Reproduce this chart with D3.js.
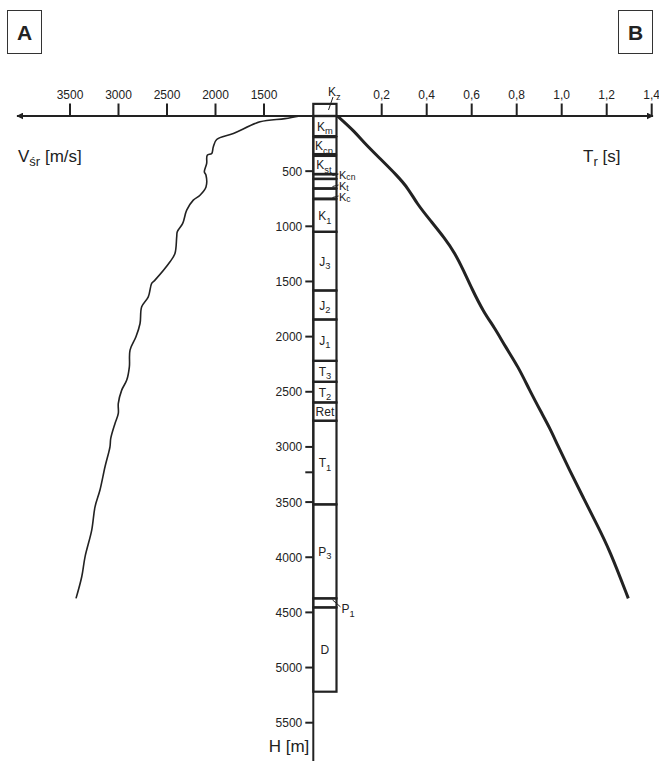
<!DOCTYPE html>
<html>
<head>
<meta charset="utf-8">
<script src="https://cdn.jsdelivr.net/npm/d3@7"></script>
<style>
  body { margin: 0; background: #fff; }
  text { font-family: Arial, "Liberation Sans", sans-serif; fill: #222; }
</style>
</head>
<body>
<div id="chart"></div>
<script>
// tick values on the three axes
const velTicks = [3500, 3000, 2500, 2000, 1500];
const timeTicks = [0.2, 0.4, 0.6, 0.8, 1.0, 1.2, 1.4];
const depthTicks = [500, 1000, 1500, 2000, 2500, 3000, 3500, 4000, 4500, 5000, 5500];
const depthExtraTicks = [3230]; // unlabelled tick on the original

// average velocity curve (A)
const velDepth = [0, 24, 53, 159, 213, 280, 340, 355, 430, 507, 537, 643, 718, 763, 854, 974, 1050, 1096, 1246, 1322, 1488, 1518, 1640, 1730, 1881, 2002, 2122, 2274, 2394, 2485, 2606, 2696, 2787, 2923, 2999, 3180, 3391, 3543, 3754, 3996, 4177, 4373];
const velValues = [1130, 1284, 1541, 1816, 1988, 2023, 2039, 2085, 2091, 2115, 2098, 2098, 2160, 2229, 2297, 2338, 2394, 2400, 2418, 2469, 2624, 2658, 2693, 2761, 2778, 2820, 2881, 2888, 2915, 2967, 3002, 3002, 3036, 3080, 3088, 3139, 3191, 3242, 3276, 3345, 3379, 3438];

// reflection time curve (B)
const timeDepth = [0, 144, 235, 385, 537, 657, 793, 944, 1110, 1246, 1397, 1563, 1775, 1926, 2093, 2274, 2485, 2682, 2848, 2968, 3210, 3452, 3693, 3934, 4373];
const timeValues = [0.003, 0.081, 0.118, 0.192, 0.267, 0.318, 0.356, 0.415, 0.481, 0.526, 0.563, 0.6, 0.652, 0.704, 0.75, 0.807, 0.857, 0.908, 0.952, 0.978, 1.035, 1.094, 1.154, 1.213, 1.296];

// stratigraphic column
const layerMain = ["K", "K", "K", "K", "K", "K", "K", "K", "J", "J", "J", "T", "T", "Ret", "T", "P", "P", "D"];
const layerSub = ["z", "m", "cp", "st", "cn", "t", "c", "1", "3", "2", "1", "3", "2", "", "1", "3", "1", ""];
const layerTop = [-110, 0, 192, 362, 530, 572, 660, 755, 1050, 1582, 1845, 2220, 2410, 2597, 2763, 3521, 4373, 4455];
const layerBottom = [0, 182, 345, 525, 568, 655, 748, 1050, 1582, 1845, 2220, 2410, 2597, 2763, 3521, 4373, 4455, 5219];
const layerOutside = ["top", "", "", "", "right", "right", "right", "", "", "", "", "", "", "", "", "", "right", ""];

const width = 659, height = 763;
const ink = "#222";

const svg = d3.select("#chart")
    .append("svg")
    .attr("width", width)
    .attr("height", height);

const x = d3.scaleLinear().domain([1500, 3500]).range([264, 70]);   // velocity, to the left
const t = d3.scaleLinear().domain([0, 1.4]).range([336.7, 651.7]);  // time, to the right
const y = d3.scaleLinear().domain([0, 5500]).range([116, 722.7]);   // depth, down

const colLeft = 313.3, colRight = 336.5;

// text with a subscript
const label = (g, px, py, main, sub, size, anchor, shift) => {
    const txt = g.append("text")
        .attr("x", px)
        .attr("y", py)
        .attr("font-size", size)
        .attr("text-anchor", anchor || "start");
    txt.append("tspan").text(main);
    if (sub) {
        txt.append("tspan")
            .attr("dy", size * (shift || 0.3))
            .attr("font-size", size * 0.78)
            .text(sub);
    }
    return txt;
};

// panel letters
[["A", 7], ["B", 618]].forEach(([s, bx]) => {
    svg.append("rect")
        .attr("x", bx + 0.5).attr("y", 10.5)
        .attr("width", 34).attr("height", 43)
        .attr("fill", "none")
        .attr("stroke", "#333")
        .attr("stroke-width", 1);
    svg.append("text")
        .attr("x", bx + 17.5).attr("y", 40)
        .attr("text-anchor", "middle")
        .attr("font-size", 21)
        .attr("font-weight", "bold")
        .text(s);
});

// arrowheads
const defs = svg.append("defs");
defs.append("marker")
    .attr("id", "arrow")
    .attr("viewBox", "0 0 10 10")
    .attr("refX", 9).attr("refY", 5)
    .attr("markerWidth", 7).attr("markerHeight", 7)
    .attr("markerUnits", "userSpaceOnUse")
    .attr("orient", "auto-start-reverse")
    .append("path")
    .attr("d", "M0,0 L10,5 L0,10 z")
    .attr("fill", ink);

const y0 = y(0);

// horizontal axis line with arrows at both ends
svg.append("line")
    .attr("x1", 17).attr("x2", 653)
    .attr("y1", y0).attr("y2", y0)
    .attr("stroke", ink)
    .attr("stroke-width", 2)
    .attr("marker-start", "url(#arrow)")
    .attr("marker-end", "url(#arrow)");

// velocity ticks
const vt = svg.append("g");
vt.selectAll("line").data(velTicks).join("line")
    .attr("x1", d => x(d)).attr("x2", d => x(d))
    .attr("y1", y0 - 12.5).attr("y2", y0)
    .attr("stroke", ink).attr("stroke-width", 2);
vt.selectAll("text").data(velTicks).join("text")
    .attr("x", d => x(d)).attr("y", y0 - 17)
    .attr("text-anchor", "middle")
    .attr("font-size", 12)
    .text(d => d);

// time ticks
const fmtT = d => d3.format(".1f")(d).replace(".", ",");
const tt = svg.append("g");
tt.selectAll("line").data(timeTicks).join("line")
    .attr("x1", d => t(d)).attr("x2", d => t(d))
    .attr("y1", y0 - 12.5).attr("y2", y0)
    .attr("stroke", ink).attr("stroke-width", 2);
tt.selectAll("text").data(timeTicks).join("text")
    .attr("x", d => t(d)).attr("y", y0 - 17)
    .attr("text-anchor", "middle")
    .attr("font-size", 12)
    .text(fmtT);

// depth axis
svg.append("line")
    .attr("x1", colLeft).attr("x2", colLeft)
    .attr("y1", y0).attr("y2", 761)
    .attr("stroke", ink).attr("stroke-width", 2);
const dt = svg.append("g");
dt.selectAll("line").data(depthTicks.concat(depthExtraTicks)).join("line")
    .attr("x1", colLeft - 8).attr("x2", colLeft)
    .attr("y1", d => y(d)).attr("y2", d => y(d))
    .attr("stroke", ink).attr("stroke-width", 2);
dt.selectAll("text").data(depthTicks).join("text")
    .attr("x", colLeft - 11).attr("y", d => y(d) + 4.5)
    .attr("text-anchor", "end")
    .attr("font-size", 12)
    .text(d => d);

// column boxes
const col = svg.append("g");
const sideY = [178.5, 189.5, 200.5]; // label baselines for the thin K layers
let side = 0;
layerMain.forEach((m, i) => {
    const top = y(layerTop[i]), bot = y(layerBottom[i]);
    col.append("rect")
        .attr("x", colLeft).attr("y", top)
        .attr("width", colRight - colLeft)
        .attr("height", bot - top)
        .attr("fill", "none")
        .attr("stroke", ink)
        .attr("stroke-width", 2.2);
    const mid = (top + bot) / 2;
    const where = layerOutside[i];
    if (where === "") {
        label(col, (colLeft + colRight) / 2 - (layerSub[i].length > 1 ? 1 : 0), mid + 4.5, m, layerSub[i], 12, "middle");
    } else if (where === "top") {
        col.append("line")
            .attr("x1", 333).attr("y1", 97)
            .attr("x2", 328.5).attr("y2", 110)
            .attr("stroke", ink).attr("stroke-width", 1);
        label(col, 328, 96, m, layerSub[i], 12, "start");
    } else if (i === 16) {
        col.append("line")
            .attr("x1", colRight - 4).attr("y1", mid - 3)
            .attr("x2", colRight + 4).attr("y2", mid + 4)
            .attr("stroke", ink).attr("stroke-width", 1);
        label(col, colRight + 5, mid + 10, m, layerSub[i], 12, "start");
    } else {
        const ly = sideY[side++];
        col.append("line")
            .attr("x1", colRight - 4).attr("y1", ly - 3)
            .attr("x2", colRight + 2).attr("y2", ly - 4.5)
            .attr("stroke", ink).attr("stroke-width", 1);
        label(col, colRight + 2.5, ly, m, layerSub[i], 11, "start", 0.18);
    }
});

// curves
const velLine = d3.line()
    .x((d, i) => x(velValues[i]))
    .y(d => y(d))
    .curve(d3.curveCatmullRom);
svg.append("path")
    .attr("d", velLine(velDepth))
    .attr("fill", "none")
    .attr("stroke", ink)
    .attr("stroke-width", 1.6);

const timeLine = d3.line()
    .x((d, i) => t(timeValues[i]))
    .y(d => y(d))
    .curve(d3.curveBasis);
svg.append("path")
    .attr("d", timeLine(timeDepth))
    .attr("fill", "none")
    .attr("stroke", ink)
    .attr("stroke-width", 3);

// axis titles
const vLab = svg.append("text").attr("x", 18).attr("y", 162).attr("font-size", 17);
vLab.append("tspan").text("V");
vLab.append("tspan").attr("dy", 4).attr("font-size", 13).text("śr");
vLab.append("tspan").attr("dy", -4).text(" [m/s]");

const tLab = svg.append("text").attr("x", 583).attr("y", 162).attr("font-size", 17);
tLab.append("tspan").text("T");
tLab.append("tspan").attr("dy", 4).attr("font-size", 13).text("r");
tLab.append("tspan").attr("dy", -4).text(" [s]");

svg.append("text")
    .attr("x", colLeft - 4).attr("y", 752)
    .attr("text-anchor", "end")
    .attr("font-size", 17)
    .text("H [m]");
</script>
</body>
</html>
